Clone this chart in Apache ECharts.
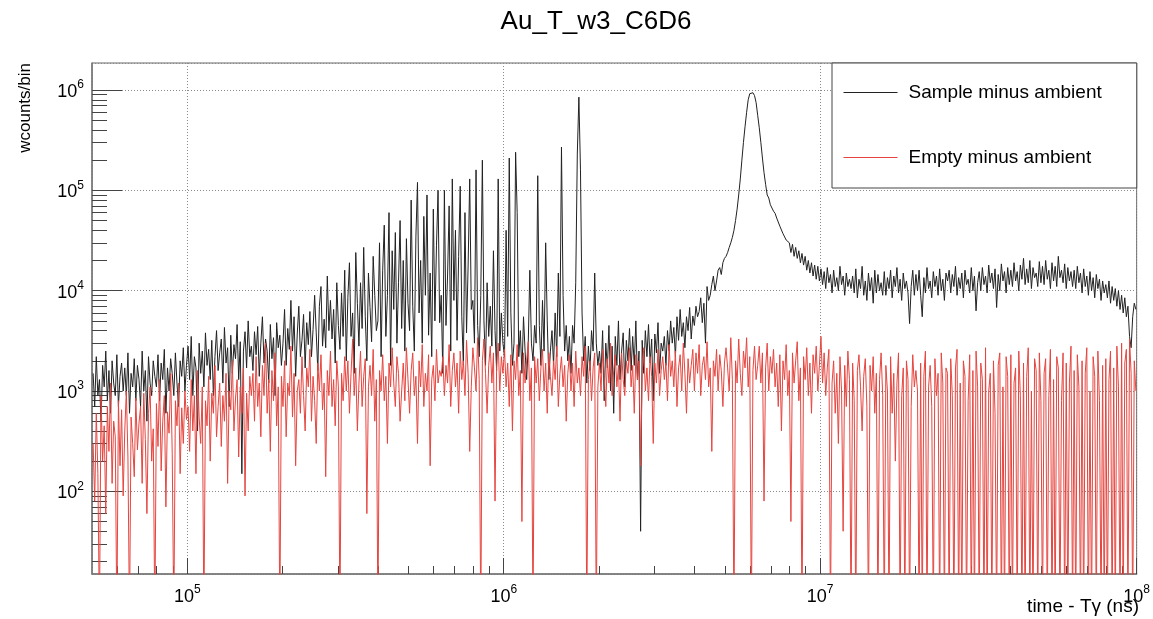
<!DOCTYPE html>
<html><head><meta charset="utf-8">
<script src="https://cdn.jsdelivr.net/npm/echarts@6.0.0/dist/echarts.min.js"></script>
<style>html,body{margin:0;padding:0;background:#fff}#c{width:1153px;height:619px}</style>
</head><body><div id="c"></div>
<script>
const chartTitle = 'Au_T_w3_C6D6';
const xTitle = 'time - Tγ (ns)';
const yTitle = 'wcounts/bin';
const seriesNames = ['Sample minus ambient', 'Empty minus ambient'];
// histogram binning: log-spaced bins, 200 per decade, first edge at 10^4.7 ns
const binLog10Start = 4.7;
const binLog10Width = 0.005;

const sampleMinusAmbient = [
1500,700,2200,900,1300,500,1800,1100,2500,800,1600,600,2000,1200,900,2300,700,1400,1900,1000,
1700,900,2400,600,1500,1100,2100,800,1800,1300,700,2500,1000,1600,500,2200,1200,900,2000,1400,
1100,2300,800,1900,1300,2600,600,1700,1000,2100,1500,900,2400,1200,700,2000,1400,2700,1000,1800,
2800,1300,3500,900,2200,1700,400,3000,1500,2500,1100,3800,1800,2600,1300,3200,900,2200,4000,1600,
2400,3300,1200,4300,1900,2700,700,3600,1500,2900,2100,4600,1300,3100,150,2500,3900,1700,5000,2200,
2800,1600,3900,2300,4400,1400,3000,5500,1900,3300,2500,1200,4600,2100,3400,900,4800,2700,3600,1800,
3000,6500,1800,4200,2600,8000,2500,5500,1400,3700,7000,2200,3200,5800,1700,4800,2900,6200,2200,4100,
9000,3800,1600,7000,11000,2800,5200,2700,14000,4000,8000,3300,6500,1900,12000,4500,2600,9500,3500,16000,
2000,8500,19000,3500,6000,1500,24000,7500,2800,12000,4200,27000,5500,2000,15000,6800,3100,22000,9000,4000,
5000,30000,2200,16000,45000,3500,9000,60000,1800,25000,6500,38000,3000,12000,50000,4200,20000,2500,33000,7500,
4000,80000,7000,2500,35000,120000,6000,20000,3000,55000,9000,90000,3600,15000,2200,65000,5000,28000,100000,4800,
9000,1500,100000,4500,14000,70000,2500,130000,8000,40000,3200,22000,110000,5500,1800,60000,3800,18000,130000,6500,
8000,3000,160000,4500,2200,9000,200000,5000,1800,12000,3500,7000,2800,25000,4000,1600,130000,2500,6000,3000,
2200,40000,3500,210000,6000,1800,3000,240000,60000,2200,4000,1500,5500,2500,1300,3000,16000,3000,2000,4500,
3000,140000,4500,1800,8000,2500,30000,5000,1300,2500,4000,1800,6000,2200,15000,3500,270000,9000,2500,4500,
2000,3500,1500,4500,3000,12000,230000,850000,160000,6000,2000,3500,1200,2800,1600,4000,2500,15000,3000,1800,
2500,1500,4000,800,3000,1700,4500,1000,2800,600,3500,1800,5000,1300,2500,3800,1100,3200,2000,4200,
1600,3500,1800,5000,1300,2500,40,3200,1500,4000,2200,4600,1900,3300,800,3700,2400,4800,1500,3000,
2500,3500,1800,4000,2500,5000,3000,4300,2200,5500,3200,6500,3500,4800,2700,5500,4000,6800,3300,5600,
4500,7000,5500,6200,8500,4800,7500,3000,11000,8000,9000,11500,14000,10000,12500,16000,17000,14500,19000,21000,
22000,24000,27000,30000,34000,40000,50000,65000,90000,130000,200000,300000,430000,600000,800000,920000,950000,940000,880000,750000,
560000,420000,300000,210000,150000,115000,90000,84000,72000,71000,62000,59000,53000,51000,44000,43000,37000,36000,32000,31000,
30000,24000,29000,22000,27000,21000,25000,19000,23500,18000,22000,16000,20000,15000,19000,14000,18000,13000,17500,12500,
16500,11500,15500,10500,17000,12000,14500,9500,16000,11000,13500,10000,17500,11500,14000,9000,15000,11000,13000,10500,
14000,9500,16500,8500,13000,10500,17500,9000,12500,8000,15000,10000,13500,7500,16000,9500,14500,10000,12000,9000,
15500,9000,13500,10500,16000,8500,14000,11000,17000,9500,13000,8000,15000,10500,12500,9500,4700,11000,16000,9000,
14500,10000,16000,9000,5500,13500,9500,17000,10500,12500,8500,15500,11000,14000,9000,16500,10000,13000,8000,15000,
12500,16000,9500,14500,11000,17500,9000,13500,10500,15000,8500,16000,11500,13000,9500,17000,10000,14000,6300,12000,
15500,10000,17000,11500,14000,9500,18000,12000,15000,10500,16500,6800,14500,10000,18500,12500,15500,9500,17000,11500,
16000,11000,19000,12500,15500,10000,18000,13000,21000,11500,16500,12000,20000,10500,17000,13500,15000,11000,19500,12000,
17500,11500,20000,13000,16000,10500,19000,12500,17500,11000,22000,13500,16000,12000,18500,10500,17000,12500,15500,11000,
16000,10500,17500,12000,15000,9500,16500,11000,14000,9000,15500,10000,13500,8500,14500,10500,13000,8000,12500,9500,
11500,8500,12500,7500,11000,8000,10500,7000,10000,6500,9000,6000,8500,5500,7000,3500,2700,5500,7500,6500
];

// values below the axis minimum mark empty / negative bins
const emptyMinusAmbient = [
300,80,600,150,5,900,200,450,60,700,250,1200,120,500,350,5,800,180,650,90,
400,1000,220,5,550,300,140,850,260,480,700,120,950,330,60,600,1100,200,420,5,
750,280,1300,160,500,900,70,620,380,1500,240,5,800,450,1200,150,680,300,1000,520,
700,250,1300,400,900,150,1600,550,300,1100,5,800,450,1400,200,950,600,1800,350,700,
1200,280,900,500,1500,120,1000,650,2000,400,850,1300,220,1100,600,1700,90,950,400,1400,
900,1500,500,2200,700,1200,350,1800,900,3000,600,1300,250,1600,800,2400,450,1100,5,1400,
700,2000,350,1200,900,2800,550,1500,180,1000,1300,600,2200,900,400,1700,1100,2600,500,1400,
800,300,1900,1000,2300,650,1200,140,1600,900,2500,700,1300,450,2000,1100,5,1500,800,2200,
1000,2000,600,1500,3300,900,1700,400,1200,2500,700,1400,2100,60,1100,1800,900,2600,500,1300,
5,1600,1000,2300,800,1400,300,1900,1100,2700,1200,700,2200,1500,500,1000,1900,800,2700,1300,
600,1600,2400,900,1400,300,2000,1100,2900,700,1500,1000,2300,180,1300,1800,800,2600,1200,1600,
1400,2200,900,1800,1200,2900,700,1600,2400,1100,1900,600,2500,1300,2000,900,3200,1500,250,1100,
2700,1700,1000,3400,1300,5,2000,3300,1500,600,1800,2800,1200,2400,80,1700,3000,1000,2200,1500,
2600,1100,1900,700,2300,400,2000,1300,2900,900,1600,50,2400,1200,2000,3100,800,1700,5,2200,
1200,2100,800,1700,2600,1000,1900,600,2400,1400,900,2000,1300,2800,700,1500,2200,1100,1800,500,
1500,2300,1000,1900,700,2500,1200,1700,900,2200,1400,2800,5,1300,2000,800,1700,2400,5,1100,
1900,1000,2600,1400,700,2100,1200,3000,900,1600,2300,1100,1800,500,2400,1300,900,2000,1500,2700,
1100,1800,600,2300,1300,2000,180,1500,2700,1000,1700,800,2200,1400,300,1900,1200,2600,900,1600,
2200,1300,1900,800,2900,1400,2000,1100,2500,700,1700,2300,1000,3000,1500,600,2100,1200,1800,2600,
1000,2400,1500,2900,900,1800,2200,1300,3100,1100,1700,250,2000,1400,2600,1000,2300,1600,700,1900,
2700,1700,1000,3400,1300,5,2000,1200,3300,1500,900,2500,1700,3400,1100,2200,5,1600,2800,1300,
1800,2800,1200,2400,80,1700,3000,1000,2200,1500,2600,1100,1900,700,2300,400,2000,1300,2900,900,
1600,50,2400,1200,2000,3100,800,1700,5,2200,1300,2700,900,1900,600,2300,1500,2800,1000,1800,
3500,1200,2400,900,1700,2600,5,1200,2000,600,1500,300,2200,1000,40,1800,700,2500,1300,5,
1900,800,5,1600,2300,1100,400,1400,2100,700,5,1800,1000,2200,600,1500,5,1300,2400,900,
5,1800,1000,5,2200,600,1500,200,1200,2400,5,900,1700,5,2000,1300,5,700,2300,1100,
1600,1000,5,1900,5,1400,2500,5,1100,1800,700,5,2100,900,1500,5,2400,1200,5,1700,
1500,5,2100,900,5,1700,2600,5,1200,5,2000,1400,5,800,2300,5,1600,5,2500,1100,
5,1900,1300,5,2700,5,1000,1500,5,2000,600,5,1800,2400,5,1100,5,2200,1400,5,
2300,5,1200,1700,5,2500,900,5,1900,5,1400,2700,5,1000,5,2100,1600,5,2400,800,
5,1500,2100,5,900,2600,5,1300,5,2200,1700,5,800,2400,5,1900,5,1200,2800,5,
1600,5,2300,1100,5,2000,5,1500,2700,5,1000,5,2200,1400,5,2500,800,5,1800,5,
2100,5,1300,2500,5,1700,5,2800,1100,5,3000,5,1900,2600,5,3300,1500,5,2000,1000
];

const xMin = 5e4, xMax = 1e8;
const yMin = 15, yMax = 1.86e6;
const xMinorTicks = [6e4,7e4,8e4,9e4, 2e5,3e5,4e5,5e5,6e5,7e5,8e5,9e5, 2e6,3e6,4e6,5e6,6e6,7e6,8e6,9e6, 2e7,3e7,4e7,5e7,6e7,7e7,8e7,9e7];
const yMinorTicks = [20,30,40,50,60,70,80,90, 200,300,400,500,600,700,800,900, 2000,3000,4000,5000,6000,7000,8000,9000,
  2e4,3e4,4e4,5e4,6e4,7e4,8e4,9e4, 2e5,3e5,4e5,5e5,6e5,7e5,8e5,9e5];

const FONT = 'Liberation Sans, Arial, Helvetica, sans-serif';
const toPairs = vals => vals.map((v, i) => [Math.pow(10, binLog10Start + binLog10Width * (i + 0.5)), v]);
const supLabel = v => '{b|10}{s|' + Math.round(Math.log10(v)) + '}';
const rich = {
  b: {fontSize: 18, fontFamily: FONT, color: '#000', lineHeight: 22, verticalAlign: 'bottom'},
  s: {fontSize: 12, fontFamily: FONT, color: '#000', lineHeight: 12, verticalAlign: 'top'}
};
const tickColor = '#444';
const gridLine = {show: true, lineStyle: {color: '#8a8a8a', width: 1, type: [1, 2]}};

const chart = echarts.init(document.getElementById('c'), null, {renderer: 'canvas'});
chart.setOption({
  animation: false,
  backgroundColor: '#fff',
  textStyle: {fontFamily: FONT},
  grid: {left: 92, right: 16, top: 63, bottom: 45, show: true, borderColor: '#666', borderWidth: 1},
  legend: {
    orient: 'vertical', left: 832, top: 63,
    padding: [20, 35, 21, 11],
    itemWidth: 54, itemHeight: 14, itemGap: 46,
    borderColor: '#444', borderWidth: 1, backgroundColor: '#fff',
    selectedMode: false,
    itemStyle: {opacity: 0, borderWidth: 0},
    lineStyle: {width: 1},
    textStyle: {fontSize: 19, color: '#000', fontFamily: FONT, padding: [0, 0, 0, 6]},
    data: seriesNames
  },
  xAxis: [
    {type: 'log', logBase: 10, min: xMin, max: xMax,
     axisLine: {show: true, lineStyle: {color: '#777', width: 1.5}},
     axisTick: {show: true, inside: true, length: 16, lineStyle: {color: tickColor}},
     axisLabel: {showMinLabel: false, showMaxLabel: true, margin: 10, formatter: supLabel, rich: rich},
     splitLine: gridLine},
    {type: 'log', logBase: 10, min: xMin, max: xMax, position: 'bottom',
     axisLine: {show: false}, axisLabel: {show: false}, splitLine: {show: false},
     axisTick: {show: true, inside: true, length: 8, customValues: xMinorTicks, lineStyle: {color: tickColor}}}
  ],
  yAxis: [
    {type: 'log', logBase: 10, min: yMin, max: yMax,
     axisLine: {show: true, lineStyle: {color: '#777', width: 1.5}},
     axisTick: {show: true, inside: true, length: 30, lineStyle: {color: tickColor}},
     axisLabel: {showMinLabel: false, showMaxLabel: false, margin: 8, formatter: supLabel, rich: rich},
     splitLine: gridLine},
    {type: 'log', logBase: 10, min: yMin, max: yMax, position: 'left',
     axisLine: {show: false}, axisLabel: {show: false}, splitLine: {show: false},
     axisTick: {show: true, inside: true, length: 15, customValues: yMinorTicks, lineStyle: {color: tickColor}}}
  ],
  series: [
    {name: seriesNames[0], type: 'line', xAxisIndex: 0, yAxisIndex: 0,
     data: toPairs(sampleMinusAmbient), symbol: 'none', clip: true, silent: true,
     lineStyle: {color: '#222', width: 1}, itemStyle: {color: '#222'}},
    {name: seriesNames[1], type: 'line', xAxisIndex: 0, yAxisIndex: 0,
     data: toPairs(emptyMinusAmbient), symbol: 'none', clip: true, silent: true,
     lineStyle: {color: '#e6453f', width: 1}, itemStyle: {color: '#e6453f'}}
  ],
  graphic: [
    {type: 'text', x: 596, y: 22, silent: true,
     style: {text: chartTitle, fontSize: 26, fontFamily: FONT, fill: '#000', align: 'center', verticalAlign: 'middle', textAlign: 'center', textVerticalAlign: 'middle'}},
    {type: 'text', x: 25, y: 63, rotation: Math.PI / 2, silent: true,
     style: {text: yTitle, fontSize: 17, fontFamily: FONT, fill: '#000', align: 'right', verticalAlign: 'middle', textAlign: 'right', textVerticalAlign: 'middle'}},
    {type: 'text', x: 1139, y: 607, silent: true,
     style: {text: xTitle, fontSize: 19, fontFamily: FONT, fill: '#000', align: 'right', verticalAlign: 'middle', textAlign: 'right', textVerticalAlign: 'middle'}}
  ]
});
</script></body></html>
